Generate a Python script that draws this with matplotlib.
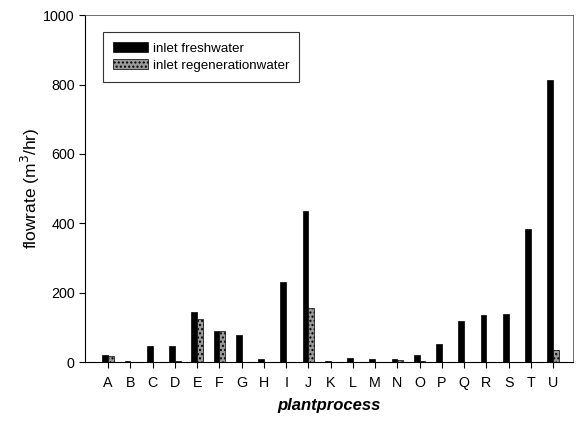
import numpy as np
import matplotlib
matplotlib.use('Agg')
import matplotlib.pyplot as plt

plt.rcParams['font.family'] = ['Liberation Sans', 'DejaVu Sans']

processes = list('ABCDEFGHIJKLMNOPQRSTU')
freshwater = [19, 3, 47, 47, 145, 89, 79, 10, 231, 435, 3, 13, 9, 9, 19, 53, 118, 135, 138, 383, 812]
regenwater = [18, 0, 1, 2, 125, 89, 0, 0, 1, 155, 1, 0, 0, 5, 2, 0, 0, 0, 0, 0, 34]

x = np.arange(len(processes))
w = 0.26

fig = plt.figure(figsize=(5.76, 4.21), dpi=100)
ax = fig.add_axes([0.148, 0.140, 0.847, 0.824])

ax.bar(x - w / 2, freshwater, w, color='black', edgecolor='black', linewidth=0.5,
       label='inlet freshwater')
ax.bar(x + w / 2, regenwater, w, color='#9a9a9a', edgecolor='black', linewidth=0.5,
       hatch='....', label='inlet regenerationwater')

ax.set_xlim(-1.03, 20.9)
ax.set_ylim(0, 1000)
ax.set_yticks([0, 200, 400, 600, 800, 1000])
ax.set_xticks(x)
ax.set_xticklabels(processes)
ax.tick_params(axis='both', direction='out', length=4, labelsize=10.3, width=0.8)
ax.tick_params(axis='x', pad=6)

for s in ['top', 'right']:
    ax.spines[s].set_linewidth(0.6)
    ax.spines[s].set_color('#555555')

ax.set_ylabel('flowrate (m$^3$/hr)', fontsize=12.5, labelpad=1)
ax.set_xlabel('plantprocess', fontsize=12, fontweight='bold', fontstyle='italic', labelpad=6)

leg = ax.legend(loc='upper left', bbox_to_anchor=(0.037, 0.952), fontsize=9.6, frameon=True,
                fancybox=False, edgecolor='black', handlelength=2.6, handleheight=0.8,
                borderpad=0.75, labelspacing=0.35, handletextpad=0.35, borderaxespad=0)
leg.get_frame().set_linewidth(0.8)

fig.savefig('out.png', dpi=100)
